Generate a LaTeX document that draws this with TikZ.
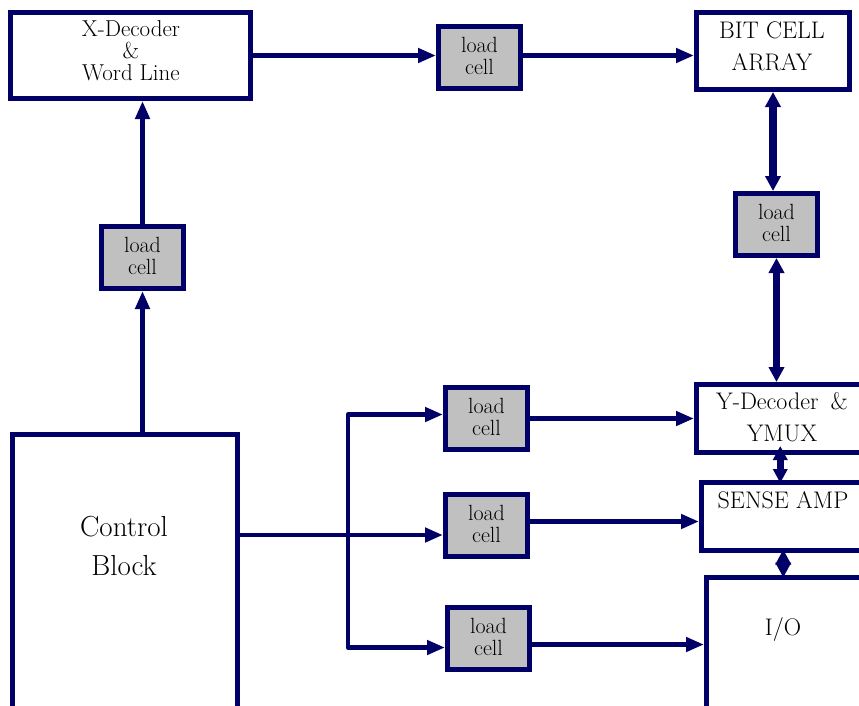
\documentclass[tikz,border=0pt]{standalone}
\usetikzlibrary{arrows.meta}
\definecolor{navy}{RGB}{0,0,102}
\definecolor{cellgray}{RGB}{192,192,192}
\begin{document}
\begin{tikzpicture}[x=1pt,y=-1pt,
  blk/.style={draw=navy, line width=5pt, inner sep=0pt, fill=white},
  lcell/.style={blk, fill=cellgray, minimum width=82pt, minimum height=62pt,
    align=center, text depth=4pt, font=\fontsize{22}{22}\selectfont},
  txt/.style={inner sep=0pt, align=center, text=black},
  arr/.style={draw=navy, line width=4.5pt, line cap=round, line join=round,
    -{Triangle[length=18pt,width=14pt]}},
  dbl/.style={draw=navy, line width=7.5pt,
    {Triangle[length=15pt,width=15pt]}-{Triangle[length=15pt,width=15pt]}},
  sdbl/.style={draw=navy, line width=7pt, shorten <=-9pt, shorten >=-3pt,
    {Triangle[length=14pt,width=14pt]}-{Triangle[length=14pt,width=14pt]}},
  ddbl/.style={draw=navy, line width=6pt, shorten <=-3.5pt, shorten >=-2.5pt,
    {Triangle[length=15pt,width=15pt]}-{Triangle[length=15pt,width=15pt]}}
]
\useasboundingbox (0,0) rectangle (859,705);
\begin{scope}
\clip (0,0) rectangle (859,705);
% boxes
\node[blk, minimum width=240pt, minimum height=86pt] (xdec) at (130.5,55.5) {};
\node[lcell] (lcT) at (479.5,57.5) {load\\cell};
\node[blk, minimum width=153pt, minimum height=77pt] (bit) at (773,51) {};
\node[lcell] (lcR) at (776.5,224.5) {load\\cell};
\node[lcell] (lcL) at (142.5,257.5) {load\\cell};
\node[blk, minimum width=225pt, minimum height=325pt] (ctrl) at (125,597) {};
\node[lcell] (lcA) at (486.5,418.5) {load\\cell};
\node[lcell] (lcB) at (486.5,525.5) {load\\cell};
\node[lcell] (lcC) at (488.5,638.5) {load\\cell};
\node[blk, minimum width=203.5pt, minimum height=68pt] (ydec) at (798.25,418.5) {};
\node[blk, minimum width=198.5pt, minimum height=68pt] (sense) at (800.75,516.5) {};
\node[blk, minimum width=193.5pt, minimum height=182.5pt] (io) at (803.25,668.75) {};
% texts
\node[txt, font=\fontsize{23}{22}\selectfont] (xdect) at (131,51) {X-Decoder\\\&\\Word Line};
\node[txt, font=\fontsize{24}{32}\selectfont] (bitt) at (772,46) {BIT CELL\\ARRAY};
\node[txt, font=\fontsize{24}{32}\selectfont] (ydect) at (782,417.5) {Y-Decoder\hspace{0.5em}\&\\YMUX};
\node[txt, anchor=base, font=\fontsize{24}{26}\selectfont] (senset) at (783,508) {SENSE AMP};
\node[txt, anchor=base, font=\fontsize{24}{26}\selectfont] (iot) at (783,635) {I/O};
\node[txt, font=\fontsize{29}{39}\selectfont] (ctrlt) at (124,545.5) {Control\\Block};
% connectors
\draw[arr] (xdec.east) -- (xdec.east -| lcT.west);
\draw[arr] ([yshift=2pt]lcT.east) -- ([yshift=2pt]lcT.east -| bit.west);
\draw[dbl] (bit.south) -- (bit.south |- lcR.north);
\draw[dbl] (lcR.south) -- (lcR.south |- ydec.north);
\draw[sdbl] ([xshift=-18pt]ydec.south) -- ([xshift=-18pt]ydec.south |- sense.north);
\draw[ddbl] ([xshift=-17.5pt]sense.south) -- ([xshift=-17.5pt]sense.south |- io.north);
\draw[arr] (ctrl.north -| lcL.south) -- (lcL.south);
\draw[arr] (lcL.north) -- (lcL.north |- xdec.south);
\coordinate (cb) at (238,535);
\coordinate (br) at (348,535);
\draw[arr] (cb) -- (cb -| lcB.west);
\draw[arr] (br) |- ([yshift=4pt]lcA.west);
\draw[arr] (br) |- ([yshift=-9pt]lcC.west);
\draw[arr] (lcA.east) -- (lcA.east -| ydec.west);
\draw[arr] ([yshift=4pt]lcB.east) -- ([yshift=4pt]lcB.east -| sense.west);
\draw[arr] ([yshift=-6pt]lcC.east) -- ([yshift=-6pt]lcC.east -| io.west);
\end{scope}
\end{tikzpicture}
\end{document}
